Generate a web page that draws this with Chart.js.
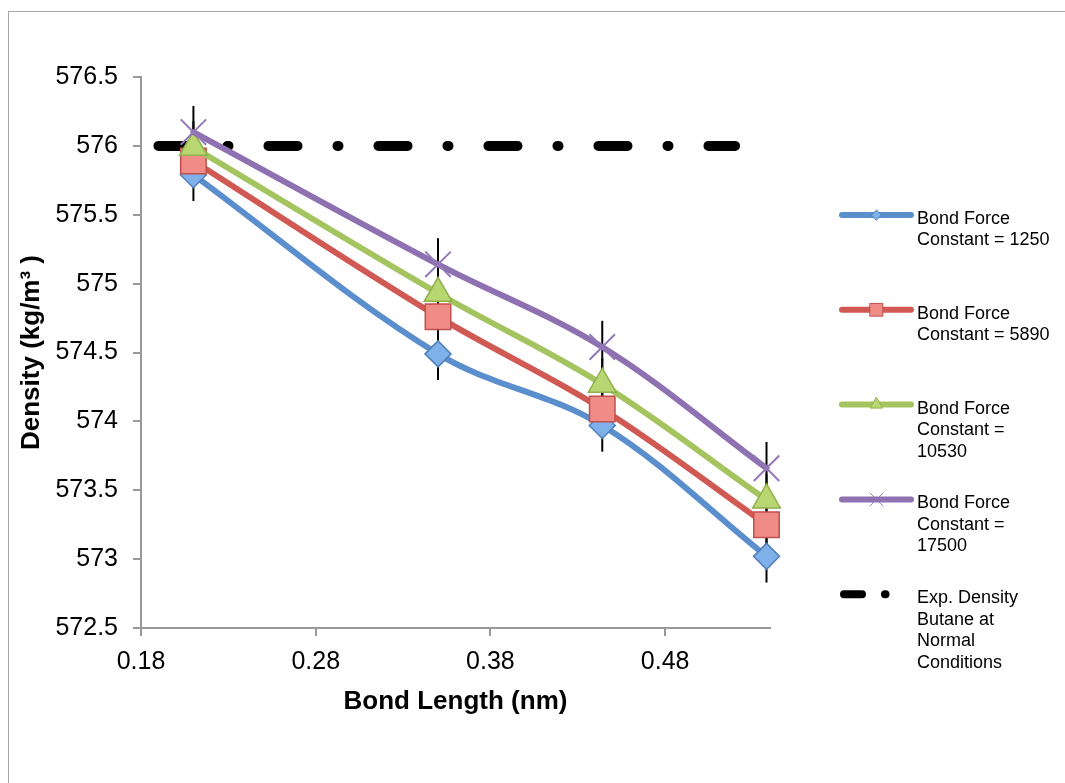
<!DOCTYPE html>
<html>
<head>
<meta charset="utf-8">
<title>Density vs Bond Length</title>
<script src="https://cdn.jsdelivr.net/npm/chart.js@4.4.1/dist/chart.umd.min.js"></script>
<style>
    html, body { margin: 0; padding: 0; background: #fff; overflow: hidden; }
    #frame { position: absolute; left: 8px; top: 11px; width: 1100px; height: 800px; border: 1px solid #a6a6a6; }
    #wrap { position: absolute; left: 0; top: 0; width: 1065px; height: 783px; }
</style>
</head>
<body>
<div id="frame"></div>
<div id="wrap"><canvas id="densityChart"></canvas></div>
<script>
// data
var bondLength = [0.21, 0.35, 0.444, 0.538];
var density1250 = [575.79, 574.49, 573.97, 573.02];
var density5890 = [575.89, 574.76, 574.09, 573.25];
var density10530 = [575.99, 574.93, 574.27, 573.43];
var density17500 = [576.10, 575.14, 574.54, 573.66];
var errorSize = [0.19, 0.19, 0.19, 0.19];
var expDensityX = [0.19, 0.52];
var expDensityY = [576, 576];
var xTicks = [0.18, 0.28, 0.38, 0.48];

var legendLines = [
    ['Bond Force', 'Constant = 1250'],
    ['Bond Force', 'Constant = 5890'],
    ['Bond Force', 'Constant =', '10530'],
    ['Bond Force', 'Constant =', '17500'],
    ['Exp. Density', 'Butane at', 'Normal', 'Conditions']
];

var FONT = "'Liberation Sans', Arial, Helvetica, sans-serif";

function toPoints(xs, ys) {
    return xs.map(function (x, i) { return { x: x, y: ys[i] }; });
}

var errorBarPlugin = {
    id: 'errorBars',
    beforeDatasetsDraw: function (chart) {
        var ctx = chart.ctx;
        var xs = chart.scales.x, ys = chart.scales.y;
        ctx.save();
        ctx.strokeStyle = '#000';
        ctx.lineWidth = 2;
        [density1250, density5890, density10530, density17500].forEach(function (vals) {
            vals.forEach(function (v, i) {
                var px = xs.getPixelForValue(bondLength[i]);
                ctx.beginPath();
                ctx.moveTo(px, ys.getPixelForValue(v - errorSize[i]));
                ctx.lineTo(px, ys.getPixelForValue(v + errorSize[i]));
                ctx.stroke();
            });
        });
        ctx.restore();
    }
};

var sideLegendPlugin = {
    id: 'sideLegend',
    afterDraw: function (chart) {
        var ctx = chart.ctx;
        var x0 = 842, x1 = 911, textX = 917, top = 215, gap = 94.8, lineH = 21.5;
        ctx.save();
        chart.data.datasets.forEach(function (ds, i) {
            var y = top + i * gap;
            ctx.lineCap = 'round';
            ctx.strokeStyle = ds.borderColor;
            if (ds.borderDash && ds.borderDash.length) {
                ctx.lineWidth = 8;
                ctx.setLineDash([18, 23, 0.5, 200]);
                ctx.beginPath();
                ctx.moveTo(x0 + 2, y);
                ctx.lineTo(x1, y);
                ctx.stroke();
                ctx.setLineDash([]);
            } else {
                ctx.lineWidth = 6;
                ctx.beginPath();
                ctx.moveTo(x0, y);
                ctx.lineTo(x1, y);
                ctx.stroke();
                if (Chart.helpers && Chart.helpers.drawPoint) {
                    ctx.fillStyle = ds.pointBackgroundColor;
                    ctx.strokeStyle = ds.pointBorderColor;
                    ctx.lineWidth = 1;
                    Chart.helpers.drawPoint(ctx, {
                        pointStyle: ds.pointStyle,
                        radius: ds.legendRadius,
                        borderWidth: 1,
                        rotation: 0
                    }, (x0 + x1) / 2, y);
                }
            }
            ctx.fillStyle = '#000';
            ctx.font = '18px ' + FONT;
            ctx.textBaseline = 'middle';
            ctx.textAlign = 'left';
            legendLines[i].forEach(function (t, k) {
                ctx.fillText(t, textX, y + 4 + k * lineH);
            });
        });
        ctx.restore();
    }
};

document.addEventListener('DOMContentLoaded', function () {
    var chartElement = document.getElementById('densityChart');

    var chartData = {
        datasets: [{
            label: 'Bond Force Constant = 1250',
            data: toPoints(bondLength, density1250),
            borderColor: '#5a8ecd',
            borderWidth: 6,
            pointStyle: 'rectRot',
            pointRadius: 13,
            legendRadius: 5,
            pointBackgroundColor: '#7fb0ea',
            pointBorderColor: '#4f81bd',
            pointBorderWidth: 1.5,
            clip: false,
            order: 4
        }, {
            label: 'Bond Force Constant = 5890',
            data: toPoints(bondLength, density5890),
            borderColor: '#d05a53',
            borderWidth: 6,
            pointStyle: 'rect',
            pointRadius: 18,
            legendRadius: 9,
            pointBackgroundColor: '#f08c86',
            pointBorderColor: '#c0504d',
            pointBorderWidth: 1.5,
            clip: false,
            order: 3
        }, {
            label: 'Bond Force Constant = 10530',
            data: toPoints(bondLength, density10530),
            borderColor: '#a4c460',
            borderWidth: 6,
            pointStyle: 'triangle',
            pointRadius: 16,
            legendRadius: 7,
            pointBackgroundColor: '#b8d772',
            pointBorderColor: '#8fb04a',
            pointBorderWidth: 1.5,
            clip: false,
            order: 2
        }, {
            label: 'Bond Force Constant = 17500',
            data: toPoints(bondLength, density17500),
            borderColor: '#8d71b1',
            borderWidth: 6,
            pointStyle: 'crossRot',
            pointRadius: 18,
            legendRadius: 9,
            pointBackgroundColor: '#8d71b1',
            pointBorderColor: '#9279b8',
            pointBorderWidth: 2,
            clip: false,
            order: 1
        }, {
            label: 'Exp. Density Butane at Normal Conditions',
            data: toPoints(expDensityX, expDensityY),
            borderColor: '#000',
            borderWidth: 10,
            borderDash: [29, 40, 1, 40],
            borderCapStyle: 'round',
            pointRadius: 0,
            tension: 0,
            clip: false,
            order: 5
        }]
    };

    var chartOptions = {
        responsive: true,
        maintainAspectRatio: false,
        animation: false,
        events: [],
        layout: { padding: { top: 77, right: 295, left: 0, bottom: 0 } },
        elements: {
            line: { tension: 0.35, borderCapStyle: 'round', borderJoinStyle: 'round', fill: false },
            point: { hoverRadius: 0 }
        },
        plugins: {
            legend: { display: false },
            tooltip: { enabled: false }
        },
        scales: {
            x: {
                type: 'linear',
                min: 0.18,
                max: 0.54,
                afterBuildTicks: function (scale) {
                    scale.ticks = xTicks.map(function (v) { return { value: v }; });
                },
                afterFit: function (scale) { scale.height = 155; },
                grid: { display: true, drawOnChartArea: false, drawTicks: true, tickLength: 8, color: '#999', lineWidth: 2 },
                border: { display: true, color: '#999', width: 2 },
                ticks: {
                    color: '#000',
                    padding: 11,
                    font: { family: FONT, size: 25 },
                    callback: function (v) { return Number(v).toFixed(2); }
                },
                title: {
                    display: true,
                    text: 'Bond Length (nm)',
                    color: '#000',
                    font: { family: FONT, size: 26, weight: 'bold' },
                    padding: { top: 0, bottom: 66 }
                }
            },
            y: {
                min: 572.5,
                max: 576.5,
                afterFit: function (scale) { scale.width = 141; },
                grid: { display: true, drawOnChartArea: false, drawTicks: true, tickLength: 8, color: '#999', lineWidth: 2 },
                border: { display: true, color: '#999', width: 2 },
                ticks: {
                    stepSize: 0.5,
                    color: '#000',
                    padding: 15,
                    font: { family: FONT, size: 25 },
                    callback: function (v) { return String(v); }
                },
                title: {
                    display: true,
                    text: 'Density (kg/m\u00B3 )',
                    color: '#000',
                    font: { family: FONT, size: 26, weight: 'bold' },
                    padding: { top: 16, bottom: 0 }
                }
            }
        }
    };

    new Chart(chartElement, {
        type: 'line',
        data: chartData,
        options: chartOptions,
        plugins: [errorBarPlugin, sideLegendPlugin]
    });
});
</script>
</body>
</html>
